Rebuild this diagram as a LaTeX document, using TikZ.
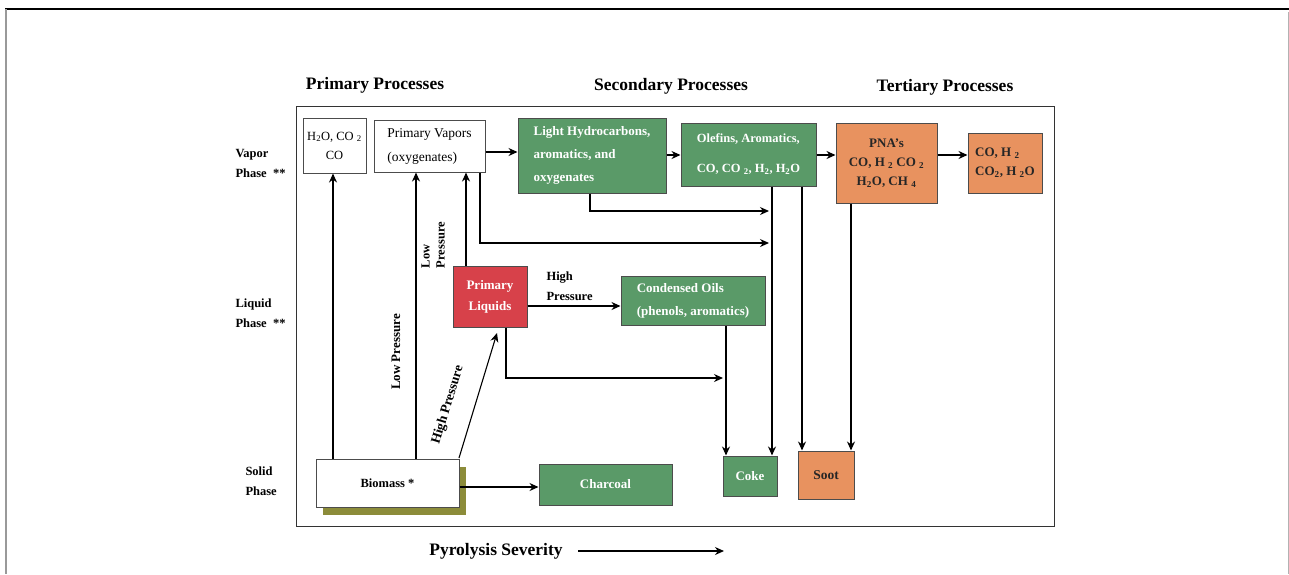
\documentclass[tikz,border=0pt]{standalone}
\usepackage{fontspec}
\setmainfont{Liberation Serif}
\usetikzlibrary{arrows.meta}
\definecolor{gfill}{HTML}{5A9A68}
\definecolor{ofill}{HTML}{E8925F}
\definecolor{rfill}{HTML}{D7414A}
\definecolor{olive}{HTML}{8C8C3A}
\tikzset{
  box/.style={draw=black!70, line width=1pt, inner sep=1pt, align=center, font=\fontsize{13.5}{24}\selectfont},
  wbox/.style={box, fill=white, text=black},
  gbox/.style={box, fill=gfill, text=white, font=\bfseries\fontsize{13}{23}\selectfont},
  obox/.style={box, fill=ofill, text=black!85, font=\bfseries\fontsize{13}{19}\selectfont},
  rbox/.style={box, fill=rfill, text=white, font=\bfseries\fontsize{13}{21}\selectfont},
  arr/.style={line width=1.4pt, -{Stealth[length=9pt,width=8pt]}},
  head/.style={font=\bfseries\fontsize{17.5}{20}\selectfont},
  rowlab/.style={font=\bfseries\fontsize{12.5}{20}\selectfont, align=left, anchor=west},
  lab/.style={font=\bfseries\fontsize{13}{15}\selectfont, align=left}
}
\newcommand{\sub}[1]{\textsubscript{#1}}
\begin{document}
\begin{tikzpicture}[x=1pt,y=-1pt]
\useasboundingbox (0,0) rectangle (1289,574);
% outer frame
\draw[black, line width=1.2pt] (5,9) -- (1289,9);
\draw[black!40, line width=1.2pt] (6,9) -- (6,574);
\draw[black!30, line width=1pt] (1288,12) -- (1288,574);
% inner frame
\draw[black!80, line width=1pt] (296,106) rectangle (1054,526);
% headings
\node[head] (hp) at (375,85) {Primary Processes};
\node[head] (hs) at (671,86) {Secondary Processes};
\node[head] (ht) at (945,87) {Tertiary Processes};
% row labels
\node[rowlab] (rv) at (232,163) {Vapor\\Phase \ **};
\node[rowlab] (rl) at (232,313) {Liquid\\Phase \ **};
\node[rowlab] (rs) at (242,481) {Solid\\Phase};
% boxes
\node[wbox, minimum width=63pt, minimum height=55pt, font=\fontsize{12.5}{19}\selectfont] (h2o) at (334.5,145.5) {H\sub{2}O, CO \sub{2}\\CO};
\node[wbox, minimum width=111pt, minimum height=52pt, align=left] (pv) at (429.5,146) {Primary Vapors\\(oxygenates)};
\node[gbox, minimum width=148pt, minimum height=75pt, align=left] (lh) at (592,155.5) {Light Hydrocarbons,\\aromatics, and\\oxygenates};
\node[gbox, minimum width=135pt, minimum height=63pt, align=left, font=\bfseries\fontsize{12.5}{30}\selectfont] (ol) at (748.5,154.5) {Olefins, Aromatics,\\CO, CO \sub{2}, H\sub{2}, H\sub{2}O};
\node[obox, minimum width=101pt, minimum height=80pt] (pna) at (886.5,163) {PNA's\\CO, H \sub{2} CO \sub{2}\\H\sub{2}O, CH \sub{4}};
\node[obox, minimum width=74pt, minimum height=60pt, align=left] (co) at (1005,163) {CO, H \sub{2}\\CO\sub{2}, H \sub{2}O};
\node[rbox, minimum width=74pt, minimum height=61pt] (pl) at (490,296.5) {Primary\\Liquids};
\node[gbox, minimum width=144pt, minimum height=49pt, align=left] (cond) at (693,300.5) {Condensed Oils\\(phenols, aromatics)};
\fill[olive] (323,467) rectangle (466,515);
\node[wbox, minimum width=143pt, minimum height=48pt, font=\bfseries\fontsize{12.5}{14}\selectfont] (bio) at (387.5,483) {Biomass *};
\node[gbox, minimum width=133pt, minimum height=41pt] (char) at (605.5,484.5) {Charcoal};
\node[gbox, minimum width=54pt, minimum height=40pt] (coke) at (750,476) {Coke};
\node[obox, minimum width=56pt, minimum height=48pt, font=\bfseries\fontsize{13.5}{16}\selectfont] (soot) at (826,475) {Soot};
% coordinates for connectors
\coordinate (c1) at (333,0 |- bio.north);
\coordinate (c1t) at (333,0 |- h2o.south);
\coordinate (c2) at (416,0 |- bio.north);
\coordinate (c2t) at (416,0 |- pv.south);
\coordinate (c3) at (466,0 |- pl.north);
\coordinate (c3t) at (466,0 |- pv.south);
\coordinate (c4) at (459,458);
\coordinate (c4t) at (497,333);
\coordinate (c5) at (480,0 |- pv.south);
\coordinate (c5b) at (480,243);
\coordinate (k1t) at (772,0 |- coke.north);
\coordinate (k1s) at (772,0 |- ol.south);
\coordinate (k2t) at (726,0 |- coke.north);
\coordinate (k2s) at (726,0 |- cond.south);
\coordinate (s1t) at (802,0 |- soot.north);
\coordinate (s1s) at (802,0 |- ol.south);
\coordinate (s2t) at (851,0 |- soot.north);
\coordinate (s2s) at (851,0 |- pna.south);
\coordinate (l1) at (590,0 |- lh.south);
\coordinate (l1b) at (590,211);
\coordinate (l1e) at (769,211);
\coordinate (c5e) at (769,243);
\coordinate (p1) at (506,0 |- pl.south);
\coordinate (p1b) at (506,378);
\coordinate (p1e) at (723,378);
% vertical connectors from biomass
\draw[arr] (c1) -- (c1t);
\draw[arr] (c2) -- (c2t);
\draw[arr] (c3) -- (c3t);
\draw[arr, line width=1.1pt] (c4) -- (c4t);
% horizontal chain
\draw[arr] (pv.east |- 0,152) -- (lh.west |- 0,152);
\draw[arr] (lh.east |- 0,155) -- (ol.west |- 0,155);
\draw[arr] (ol.east |- 0,155) -- (pna.west |- 0,155);
\draw[arr] (pna.east |- 0,155) -- (co.west |- 0,155);
\draw[arr] (pl.east |- 0,306) -- (cond.west |- 0,306);
\draw[arr] (bio.east |- 0,487) -- (char.west |- 0,487);
% elbow connectors
\draw[arr] (l1) -- (l1b) -- (l1e);
\draw[arr] (c5) -- (c5b) -- (c5e);
\draw[arr] (p1) -- (p1b) -- (p1e);
% down to coke and soot
\draw[arr, line width=2.2pt] (k1s) -- (k1t);
\draw[arr] (k2s) -- (k2t);
\draw[arr] (s1s) -- (s1t);
\draw[arr] (s2s) -- (s2t);
% labels
\node[lab, rotate=90] (lp1) at (396,352) {Low Pressure};
\node[lab, rotate=90, font=\bfseries\fontsize{12.5}{15}\selectfont] (lp2) at (433,245) {Low\\Pressure};
\node[lab, rotate=73, font=\bfseries\fontsize{13.5}{15}\selectfont] (hp1) at (448,405) {High Pressure};
\node[lab, anchor=west, font=\bfseries\fontsize{12.5}{20}\selectfont] (hp2) at (543,286) {High\\Pressure};
% pyrolysis severity
\node[head] (ps) at (496,551) {Pyrolysis Severity};
\coordinate (pse) at (724,551);
\draw[arr] (ps.east) ++(12,0) coordinate (pss) (pss) -- (pse);
\end{tikzpicture}
\end{document}
